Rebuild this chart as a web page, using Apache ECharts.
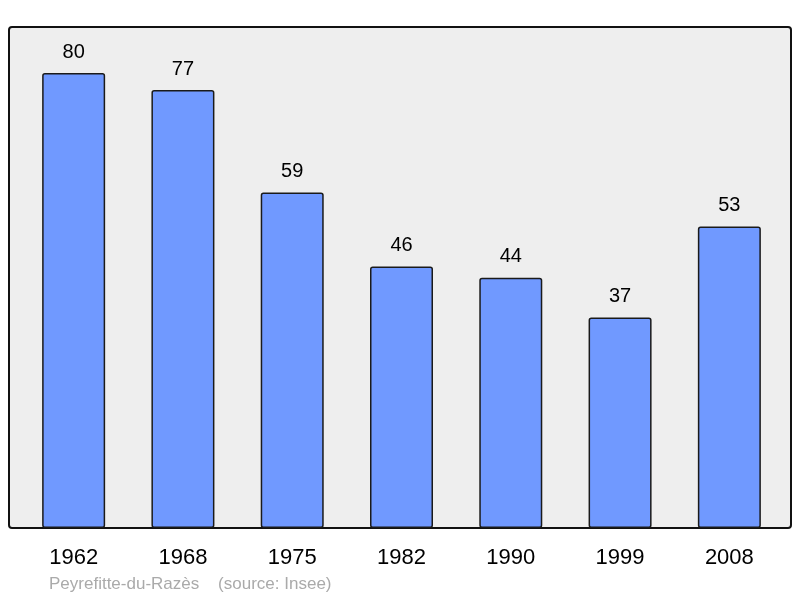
<!DOCTYPE html>
<html>
<head>
<meta charset="utf-8">
<script src="https://cdn.jsdelivr.net/npm/echarts@6/dist/echarts.min.js"></script>
<style>
html, body { margin: 0; padding: 0; background: #fff; }
#main { width: 800px; height: 598px; }
</style>
</head>
<body>
<div id="main"></div>
<script>
// années de recensement
var years = ['1962', '1968', '1975', '1982', '1990', '1999', '2008'];
// population
var population = [80, 77, 59, 46, 44, 37, 53];
var footer = 'Peyrefitte-du-Razès    (source: Insee)';

var chart = echarts.init(document.getElementById('main'));

var option = {
    animation: false,
    backgroundColor: '#ffffff',
    // cadre gris derrière les barres
    graphic: [{
        type: 'rect',
        z: -10,
        shape: { x: 9, y: 27, width: 782, height: 501, r: 3 },
        style: { fill: '#eeeeee', stroke: '#111111', lineWidth: 2 }
    }, {
        type: 'text',
        left: 49,
        top: 576,
        style: {
            text: footer,
            fill: '#aaaaaa',
            font: '17px "Liberation Sans", Arial, sans-serif'
        }
    }],
    grid: {
        left: 19,
        right: 16,
        top: 27.5,
        bottom: 70
    },
    xAxis: {
        type: 'category',
        data: years,
        axisLine: { show: false },
        axisTick: { show: false },
        axisLabel: {
            margin: 19,
            fontSize: 22,
            color: '#000',
            fontFamily: '"Liberation Sans", Arial, sans-serif'
        }
    },
    yAxis: {
        type: 'value',
        min: 0,
        max: 88,
        show: false,
        splitLine: { show: false }
    },
    series: [{
        type: 'bar',
        data: population,
        barWidth: 63,
        itemStyle: {
            color: '#7099ff',
            borderColor: '#1a1a1a',
            borderWidth: 1.5,
            borderRadius: 2
        },
        label: {
            show: true,
            position: 'top',
            distance: 11,
            fontSize: 20,
            color: '#000',
            fontFamily: '"Liberation Sans", Arial, sans-serif'
        }
    }]
};

chart.setOption(option);
</script>
</body>
</html>
